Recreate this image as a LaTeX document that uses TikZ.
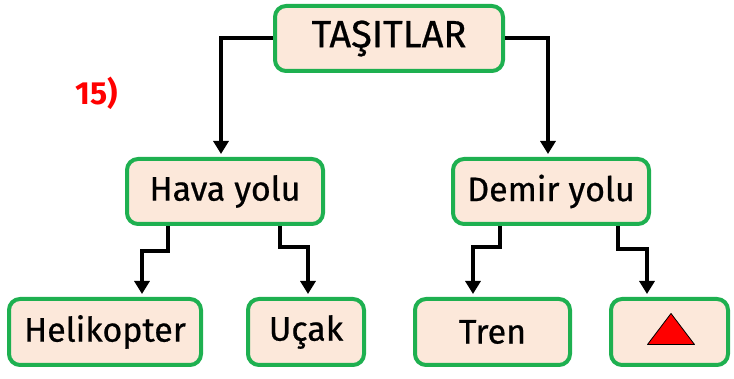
\documentclass[tikz,border=0pt]{standalone}
\usepackage{fontspec}
\setmainfont{Fira Sans}
\newfontfamily\boxfont{Fira Sans}[FakeBold=0.6]
\usetikzlibrary{arrows.meta,calc}
\definecolor{boxgreen}{RGB}{30,176,80}
\definecolor{boxfill}{RGB}{252,232,218}
\definecolor{qred}{RGB}{255,0,0}
\tikzset{
  box/.style={draw=boxgreen, fill=boxfill, line width=4pt, rounded corners=11pt,
    inner sep=0pt, minimum height=65pt, font=\boxfont\fontsize{34}{36}\selectfont},
  conn/.style={draw=black, line width=4pt, -{Triangle[width=15pt,length=13pt]}, shorten >=3pt}
}
\begin{document}
\begin{tikzpicture}[x=1pt,y=-1pt]
\useasboundingbox (0,0) rectangle (734,379);
\node[box, minimum width=228pt, font=\boxfont\fontsize{38}{40}\selectfont] (tas) at (389,38.5) {TAŞITLAR};
\node[box, minimum width=196pt] (hava) at (225,191.5) {Hava yolu};
\node[box, minimum width=196pt] (demir) at (551,191.5) {Demir yolu};
\node[box, minimum width=192pt, minimum height=66pt] (heli) at (105,332) {Helikopter};
\node[box, minimum width=116pt, minimum height=66pt] (ucak) at (306,332) {Uçak};
\node[box, minimum width=155pt, minimum height=66pt] (tren) at (492.5,332) {Tren};
\node[box, minimum width=117pt, minimum height=66pt] (q) at (669.5,332) {};
\coordinate (tri) at (671,329);
\draw[fill=qred, draw=black, line width=0.8pt, line join=round]
  ($(tri)+(-23.5,15.5)$) -- ($(tri)+(0,-15.5)$) -- ($(tri)+(23.5,15.5)$) -- cycle;
\node[text=qred, font=\fontsize{32}{34}\selectfont\bfseries] (num) at (97,93) {15)};
\draw[conn] (tas.west) -| ([xshift=-4pt]hava.north);
\draw[conn] (tas.east) -| ([xshift=-3pt]demir.north);
\draw[conn] ([xshift=-57pt]hava.south) -- ++(0,25) -| ([xshift=37pt]heli.north);
\draw[conn] ([xshift=55pt]hava.south) -- ++(0,21) -| ([xshift=2pt]ucak.north);
\draw[conn] ([xshift=-51pt]demir.south) -- ++(0,21) -| ([xshift=-19.5pt]tren.north);
\draw[conn] ([xshift=67pt]demir.south) -- ++(0,23) -| ([xshift=-22.5pt]q.north);
\end{tikzpicture}
\end{document}
